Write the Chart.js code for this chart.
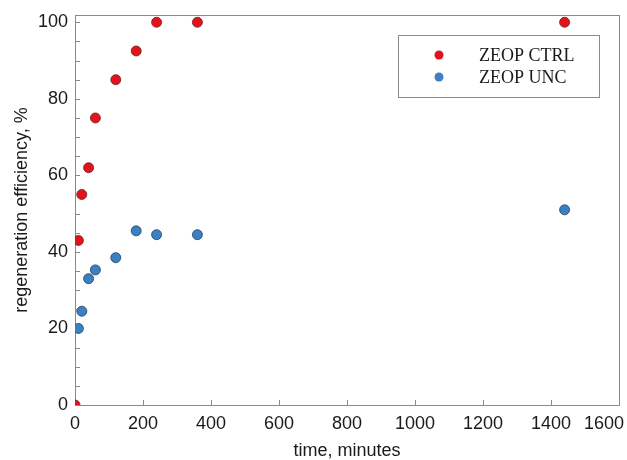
<!DOCTYPE html>
<html>
<head>
<meta charset="utf-8">
<script src="https://cdn.jsdelivr.net/npm/chart.js@4/dist/chart.umd.min.js"></script>
<style>
  html, body { margin: 0; padding: 0; background: #fff; }
  #wrap { width: 627px; height: 460px; }
</style>
</head>
<body>
<div id="wrap"><canvas id="grafica" width="627" height="460"></canvas></div>
<script>
// data
const ctrlTimes = [0, 10, 20, 40, 60, 120, 180, 240, 360, 1440];
const ctrlValues = [0, 43, 55, 62, 75, 85, 92.5, 100, 100, 100];
const uncTimes = [10, 20, 40, 60, 120, 180, 240, 360, 1440];
const uncValues = [20, 24.5, 33, 35.3, 38.5, 45.5, 44.5, 44.5, 51];
const seriesNames = ['ZEOP CTRL', 'ZEOP UNC'];
const xTickLabels = [0, 200, 400, 600, 800, 1000, 1200, 1400, 1600];
const yTickLabels = [0, 20, 40, 60, 80, 100];
const yMinorStep = 5;

const RED = '#e3121b';
const BLUE = '#3a80c3';
const FRAME = '#8a8a8a';
const SANS = '"Liberation Sans", Arial, sans-serif';

function toPoints(xs, ys) {
    return xs.map(function (x, i) { return { x: x, y: ys[i] }; });
}

// frame with inward ticks, like the original plot
const framePlugin = {
    id: 'frame',
    beforeDatasetsDraw(chart) {
        const ctx = chart.ctx;
        const a = chart.chartArea;
        const xs = chart.scales.x, ys = chart.scales.y;
        ctx.save();
        ctx.strokeStyle = FRAME;
        ctx.lineWidth = 1;
        ctx.strokeRect(Math.round(a.left) + 0.5, Math.round(a.top) + 0.5,
            Math.round(a.right - a.left), Math.round(a.bottom - a.top));
        ctx.beginPath();
        xTickLabels.forEach(function (v) {
            const px = Math.round(xs.getPixelForValue(v)) + 0.5;
            ctx.moveTo(px, a.bottom);
            ctx.lineTo(px, a.bottom - 5);
        });
        for (let v = 0; v <= yTickLabels[yTickLabels.length - 1]; v += yMinorStep) {
            const py = Math.round(ys.getPixelForValue(v)) + 0.5;
            ctx.moveTo(a.left, py);
            ctx.lineTo(a.left + 5, py);
        }
        ctx.stroke();
        ctx.restore();
    }
};

// boxed legend inside the plot
const legendBox = {
    id: 'legendBox',
    afterDraw(chart) {
        const ctx = chart.ctx;
        ctx.save();
        ctx.strokeStyle = FRAME;
        ctx.lineWidth = 1;
        ctx.strokeRect(398.5, 35.5, 201, 62);
        ctx.font = '18px "Liberation Serif", "Times New Roman", serif';
        ctx.textBaseline = 'middle';
        chart.data.datasets.forEach(function (ds, i) {
            const y = 55 + i * 22;
            ctx.beginPath();
            ctx.arc(439, y, 4.5, 0, Math.PI * 2);
            ctx.fillStyle = ds.backgroundColor;
            ctx.fill();
            ctx.fillStyle = '#1a1a1a';
            ctx.fillText(ds.label, 479, y + 1);
        });
        ctx.restore();
    }
};

new Chart(document.getElementById('grafica').getContext('2d'), {
    type: 'scatter',
    data: {
        datasets: [
            {
                label: seriesNames[0],
                data: toPoints(ctrlTimes, ctrlValues),
                backgroundColor: RED,
                borderColor: '#6a2222',
                borderWidth: 0.8,
                pointRadius: 5,
                clip: 0
            },
            {
                label: seriesNames[1],
                data: toPoints(uncTimes, uncValues),
                backgroundColor: BLUE,
                borderColor: '#23405e',
                borderWidth: 0.8,
                pointRadius: 5,
                clip: 0
            }
        ]
    },
    options: {
        responsive: false,
        animation: false,
        layout: { padding: { top: 15, right: 8, left: 0, bottom: 0 } },
        plugins: {
            legend: { display: false },
            tooltip: { enabled: false }
        },
        scales: {
            x: {
                type: 'linear',
                min: 0,
                max: 1600,
                afterBuildTicks: function (scale) {
                    scale.ticks = xTickLabels.map(function (v) { return { value: v }; });
                },
                afterFit: function (scale) {
                    scale.height = 55;
                    scale.paddingLeft = 0;
                    scale.paddingRight = 0;
                },
                grid: { display: false, drawTicks: false },
                border: { display: false },
                ticks: {
                    padding: 8,
                    maxRotation: 0,
                    minRotation: 0,
                    autoSkip: false,
                    color: '#1a1a1a',
                    font: { family: SANS, size: 18 },
                    // last label is pulled left so it stays inside the window
                    callback: function (v, i, all) {
                        return i === all.length - 1 ? String(v) + '      ' : String(v);
                    }
                },
                title: {
                    display: true,
                    text: 'time, minutes',
                    color: '#1a1a1a',
                    font: { family: SANS, size: 18, lineHeight: 1 },
                    padding: 0
                }
            },
            y: {
                type: 'linear',
                min: 0,
                max: 101.9,
                afterBuildTicks: function (scale) {
                    scale.ticks = yTickLabels.map(function (v) { return { value: v }; });
                },
                afterFit: function (scale) {
                    scale.width = 75;
                    scale.paddingTop = 0;
                    scale.paddingBottom = 0;
                },
                grid: { display: false, drawTicks: false },
                border: { display: false },
                ticks: {
                    padding: 7,
                    color: '#1a1a1a',
                    font: { family: SANS, size: 18 },
                    callback: function (v) { return String(v); }
                },
                title: {
                    display: true,
                    text: 'regeneration efficiency, %',
                    color: '#1a1a1a',
                    font: { family: SANS, size: 18 },
                    padding: { top: 11, bottom: 0 }
                }
            }
        }
    },
    plugins: [framePlugin, legendBox]
});
</script>
</body>
</html>
